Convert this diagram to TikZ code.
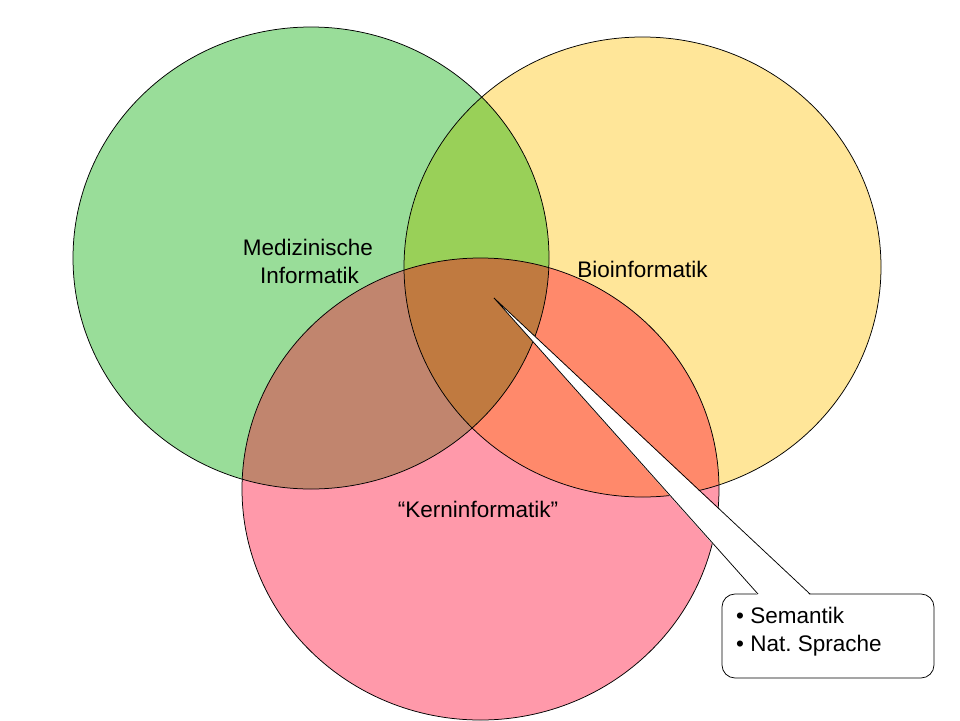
\documentclass[tikz,border=0pt]{standalone}
\usepackage{fontspec}
\setmainfont{Liberation Sans}
\frenchspacing
\definecolor{cG}{RGB}{153,221,153}
\definecolor{cY}{RGB}{255,230,153}
\definecolor{cR}{RGB}{255,153,170}
\definecolor{cGY}{RGB}{153,208,88}
\definecolor{cGR}{RGB}{193,133,110}
\definecolor{cYR}{RGB}{255,137,107}
\definecolor{cGYR}{RGB}{192,122,64}
\begin{document}
\begin{tikzpicture}[x=1pt,y=-1pt,
  lab/.style={font=\fontsize{22.5}{27}\selectfont, anchor=base, inner sep=0pt},
  blab/.style={font=\fontsize{22.5}{27}\selectfont, anchor=base west, inner sep=0pt},
  outline/.style={draw=black, line width=0.75pt},
  callbox/.style={draw=black, fill=white, line width=0.75pt, rounded corners=13pt,
    minimum width=212pt, minimum height=84pt, inner sep=0pt}]
\useasboundingbox (0,0) rectangle (960,720);
\def\ellG{(311,258) ellipse [x radius=238pt, y radius=231pt]}
\def\ellY{(642.5,267) ellipse [x radius=238.5pt, y radius=230pt]}
\def\ellR{(480.5,489) ellipse [x radius=238.5pt, y radius=231pt]}
% single regions
\fill[cG] \ellG;
\fill[cY] \ellY;
\fill[cR] \ellR;
% pairwise overlaps
\begin{scope}
  \clip \ellG;
  \fill[cGY] \ellY;
  \fill[cGR] \ellR;
\end{scope}
\begin{scope}
  \clip \ellY;
  \fill[cYR] \ellR;
\end{scope}
\begin{scope}
  \clip \ellG;
  \clip \ellY;
  \fill[cGYR] \ellR;
\end{scope}
% outlines
\draw[outline] \ellG;
\draw[outline] \ellY;
\draw[outline] \ellR;
% labels
\node[lab] (med1) at (308,255) {Medizinische};
\node[lab] (med2) at (309.5,283.5) {Informatik};
\node[lab] (bio) at (642.5,277) {Bioinformatik};
\node[lab] (kern) at (478,517) {“Kerninformatik”};
% callout
\coordinate (tip) at (494,298);
\node[callbox] (callout) at (828,636) {};
\coordinate (bl) at (758,594);
\coordinate (br) at (810,594);
\fill[white] (tip) -- ([yshift=-1.2pt]bl) -- ([yshift=-1.2pt]br) -- cycle;
\draw[outline, line join=miter] (bl) -- (tip) -- (br);
\node[blab] (sem) at (736,623) {• Semantik};
\node[blab] (nat) at (736,651) {• Nat.\ Sprache};
\end{tikzpicture}
\end{document}
